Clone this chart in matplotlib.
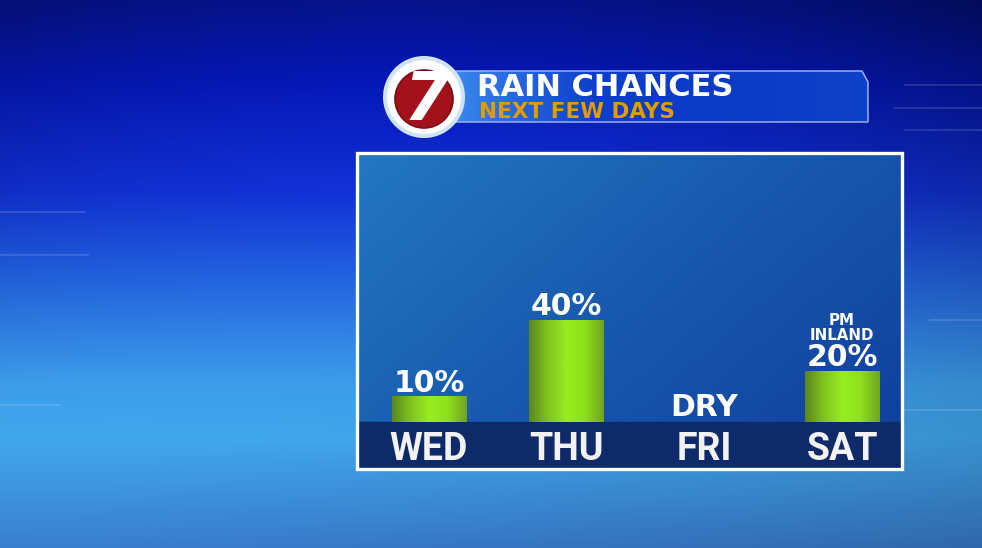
import numpy as np
import matplotlib.pyplot as plt
import matplotlib.transforms as mtransforms
from matplotlib.patches import Rectangle, Polygon, Circle
from matplotlib.colors import LinearSegmentedColormap, to_rgb

# chart data
days = ['WED', 'THU', 'FRI', 'SAT']
chances = [10, 40, 0, 20]
value_labels = ['10%', '40%', 'DRY', '20%']
notes = ['', '', '', 'PM\nINLAND']
title = 'RAIN CHANCES'
subtitle = 'NEXT FEW DAYS'

W, H = 982, 548
fig = plt.figure(figsize=(W / 100, H / 100), dpi=100)
bg = fig.add_axes([0, 0, 1, 1])
bg.set_xlim(0, W)
bg.set_ylim(H, 0)
bg.axis('off')

# ---- background gradient ----
yy = np.linspace(0, 1, H)[:, None]
xx = np.linspace(0, 1, W)[None, :]
stops = [0, 0.15, 0.35, 0.5, 0.7, 0.8, 1.0]
stop_cols = ['#06128a', '#0618b8', '#1232d8', '#2262e2', '#3ea0ee', '#42aaf0', '#3a7ed0']
img = np.zeros((H, W, 3))
for c in range(3):
    img[..., c] = np.interp(yy, stops, [to_rgb(k)[c] for k in stop_cols]) * np.ones_like(xx)
edge = np.abs(xx - 0.4) / 0.6
fac = 1 - 0.35 * edge ** 2 * (1 - yy) ** 1.5
fac = fac * (1 - 0.18 * xx ** 1.5 * yy ** 2)
img = np.clip(img * fac[..., None], 0, 1)
bg.imshow(img, extent=(0, W, H, 0), aspect='auto', zorder=0)

# faint decorative lines
for y0, x0, x1 in [(85, 905, 982), (108, 895, 982), (130, 905, 982), (212, 0, 85), (255, 0, 88),
                   (405, 0, 60), (320, 930, 982), (410, 905, 982)]:
    bg.plot([x0, x1], [y0, y0], color='white', alpha=0.15, lw=1.2, zorder=1)

# ---- panel ----
panel_cmap = LinearSegmentedColormap.from_list('panel', ['#2377c0', '#1858ae', '#103e9c'])
px0, px1, py0, py1 = 359, 901, 155, 467
gx = np.linspace(0, 1, 200)[None, :]
gy = np.linspace(0, 1, 120)[:, None]
bg.imshow(0.6 * gx + 0.4 * gy, cmap=panel_cmap, extent=(px0, px1, py1, py0),
          aspect='auto', zorder=2)
bg.add_patch(Rectangle((px0, 422), px1 - px0, py1 - 422, color='#0f2a68', zorder=3))
bg.add_patch(Rectangle((357, 153), 545, 316, fill=False, ec='white', lw=2.4, zorder=4))

# ---- header bar ----
hdr = Polygon([(455, 71), (862, 71), (868, 82), (868, 122), (455, 122)], closed=True,
              fc='none', ec='#a8bde8', lw=1.0, zorder=6)
bg.add_patch(hdr)
hdr_cmap = LinearSegmentedColormap.from_list('hdr', ['#3a86ee', '#0d3fcc', '#0b3ac6', '#0e42c8'])
hg = bg.imshow(np.linspace(0, 1, 300)[None, :], cmap=hdr_cmap, extent=(455, 868, 122, 71),
               aspect='auto', zorder=5)
hg.set_clip_path(hdr)
bg.text(477, 96, title, color='white', fontsize=22, fontweight='bold',
        family='DejaVu Sans', va='baseline', zorder=7)
bg.text(479, 118, subtitle, color='#e39c00', fontsize=15.5, fontweight='bold',
        family='DejaVu Sans', va='baseline', zorder=7)

# ---- logo ----
bg.add_patch(Circle((424, 97), 41, fc='#cfe4fa', ec='none', zorder=8))
bg.add_patch(Circle((424, 97), 37, fc='white', ec='none', zorder=8))
bg.add_patch(Circle((424, 99), 29, fc='#a3121c', ec='#7a0a12', lw=1.2, zorder=9))
bg.text(427, 101, '7', color='white', fontsize=48, fontweight='bold', style='italic',
        family='DejaVu Sans', ha='center', va='center', zorder=10)

# ---- bars ----
ax = fig.add_axes([px0 / W, 1 - 422 / H, (px1 - px0) / W, 256 / H])
ax.patch.set_alpha(0)
x = np.arange(len(days))
bw = 0.54
bars = ax.bar(x, chances, width=bw, color='#86d61e', zorder=2)
bar_cmap = LinearSegmentedColormap.from_list('bar', ['#5c8620', '#80c41e', '#98ec1e', '#8ee01c', '#70a420'])
for b in bars:
    if b.get_height() <= 0:
        continue
    im = ax.imshow(np.linspace(0, 1, 100)[None, :], cmap=bar_cmap, aspect='auto', zorder=3,
                   extent=(b.get_x(), b.get_x() + b.get_width(), 0, b.get_height()))
    im.set_clip_path(b)
ax.set_xlim(-0.508, 3.428)
ax.set_ylim(0, 100)
ax.axis('off')

for i, (v, lab, note) in enumerate(zip(chances, value_labels, notes)):
    dy = 3.2 if v > 0 else 4.3
    ax.annotate(lab, (i, v), xytext=(0, dy), textcoords='offset points', ha='center',
                va='baseline', color='white', fontsize=21.5, fontweight='bold',
                family='DejaVu Sans', zorder=5)
    if note:
        ax.annotate(note, (i, v), xytext=(0, 22.5), textcoords='offset points', ha='center',
                    va='baseline', color='white', fontsize=10.8, fontweight='bold',
                    family='DejaVu Sans', linespacing=0.95, multialignment='center', zorder=5)

# day labels in the dark band
trans = mtransforms.blended_transform_factory(ax.transData, bg.transData)
for i, d in enumerate(days):
    ax.text(i, 460, d, transform=trans, ha='center', va='baseline', color='#f2f2f2',
            fontsize=27, fontweight='bold', family='Roboto', zorder=5, clip_on=False)

fig.savefig('out.png', dpi=100)
